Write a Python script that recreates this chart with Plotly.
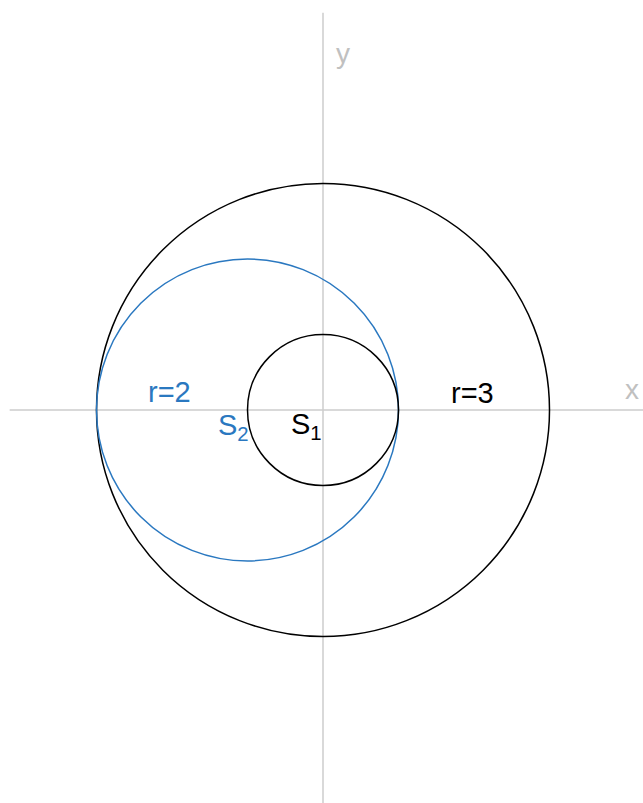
import plotly.graph_objects as go

# circles: name, center x, center y, radius, colour
circle_names = ["S3", "S2", "S1"]
circle_cx = [0, -1, 0]
circle_cy = [0, 0, 0]
circle_r = [3, 2, 1]
circle_colors = ["#000000", "#2a78c0", "#000000"]

# text labels
label_texts = ["r=2", "r=3", "S<sub>2</sub>", "S<sub>1</sub>"]
label_x = [-2.03, 1.98, -1.19, -0.22]
label_y = [0.24, 0.22, -0.22, -0.21]
label_colors = ["#2a78c0", "#000000", "#2a78c0", "#000000"]

# axes extents
x_axis_range = [-4.15, 4.3]
y_axis_range = [-5.25, 5.26]

fig = go.Figure()
fig.add_trace(go.Scatter(x=[0], y=[0], mode="markers", marker=dict(opacity=0), hoverinfo="skip", showlegend=False))

shapes = []
shapes.append(dict(type="line", x0=x_axis_range[0], x1=x_axis_range[1], y0=0, y1=0,
                   line=dict(color="#cccccc", width=1.5), layer="below"))
shapes.append(dict(type="line", x0=0, x1=0, y0=y_axis_range[0], y1=y_axis_range[1],
                   line=dict(color="#cccccc", width=1.5), layer="below"))
for cx, cy, r, c in zip(circle_cx, circle_cy, circle_r, circle_colors):
    shapes.append(dict(type="circle", x0=cx - r, x1=cx + r, y0=cy - r, y1=cy + r,
                       line=dict(color=c, width=1.5)))

font_family = "Liberation Sans, Arial"
annotations = []
for t, x, y, c in zip(label_texts, label_x, label_y, label_colors):
    annotations.append(dict(x=x, y=y, text=t, showarrow=False, xanchor="center", yanchor="middle",
                            font=dict(size=29, color=c, family=font_family)))
annotations.append(dict(x=4.09, y=0.27, text="x", showarrow=False, xanchor="center", yanchor="middle",
                        font=dict(size=28, color="#c0c0c0", family=font_family)))
annotations.append(dict(x=0.27, y=4.72, text="y", showarrow=False, xanchor="center", yanchor="middle",
                        font=dict(size=28, color="#c0c0c0", family=font_family)))

px_per_unit = 75.5
fig.update_layout(
    width=643, height=803,
    margin=dict(l=0, r=0, t=0, b=0),
    paper_bgcolor="white", plot_bgcolor="white",
    shapes=shapes, annotations=annotations,
    xaxis=dict(range=[-323 / px_per_unit, 320 / px_per_unit], visible=False, fixedrange=True),
    yaxis=dict(range=[-393 / px_per_unit, 410 / px_per_unit], visible=False, fixedrange=True),
    showlegend=False,
)
fig.write_html("out.html", config={"displayModeBar": False},
               post_script="document.body.style.margin='0';document.body.style.overflow='hidden';")
